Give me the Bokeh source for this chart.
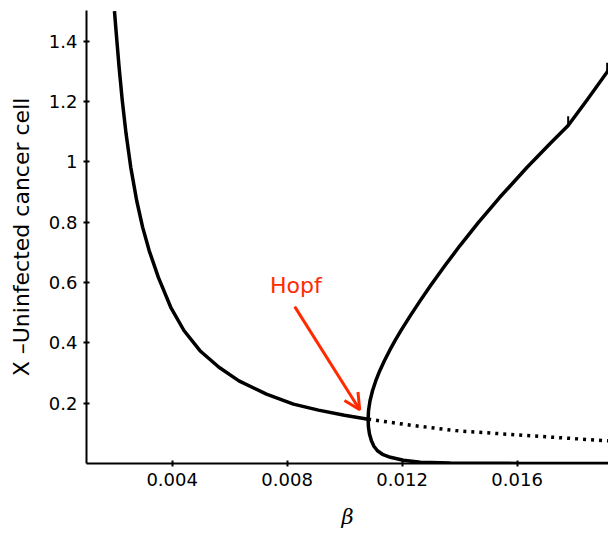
import math
from bokeh.plotting import figure
from bokeh.embed import file_html
from bokeh.resources import INLINE
from bokeh.models import FixedTicker, CustomJSTickFormatter, Arrow, OpenHead, Label, Range1d

# Stable branch (left), ending at the Hopf point
beta_left = [0.001993, 0.002056, 0.002153, 0.002264, 0.002397, 0.00256, 0.002765,
             0.002974, 0.0032, 0.00352, 0.003951, 0.00441, 0.004967, 0.005628,
             0.006323, 0.00728, 0.008219, 0.009089, 0.009993, 0.010817]
x_left = [1.50, 1.425, 1.315, 1.204, 1.093, 0.982, 0.872,
          0.783, 0.706, 0.617, 0.518, 0.441, 0.374, 0.319,
          0.274, 0.230, 0.197, 0.177, 0.160, 0.147]

# Unstable continuation after Hopf (dotted)
beta_unstable = [0.010817, 0.01230, 0.01386, 0.01490, 0.01699, 0.01914, 0.01925]
x_unstable = [0.147, 0.127, 0.109, 0.102, 0.0886, 0.0754, 0.0748]

# Second (C-shaped) branch: lower part (right to nose), then upper part (nose to right)
beta_c_low = [0.01925, 0.016115, 0.01368, 0.012637, 0.012045, 0.011593, 0.011315,
              0.011141, 0.011019, 0.010932, 0.010863, 0.010828]
x_c_low = [0.0, 0.0003, 0.0013, 0.004, 0.0106, 0.0206, 0.0305,
           0.0421, 0.0571, 0.0753, 0.0986, 0.122]
beta_c_up = [0.010817, 0.010831, 0.010883, 0.010970, 0.011085, 0.011224, 0.011384,
             0.011562, 0.011753, 0.011958, 0.012287, 0.012631, 0.012991, 0.013492,
             0.014014, 0.014650, 0.015391, 0.016341, 0.017151, 0.017777, 0.018421,
             0.019134, 0.01925]
x_c_up = [0.147, 0.1749, 0.2081, 0.2413, 0.2745, 0.3077, 0.3409,
          0.3741, 0.4072, 0.4404, 0.4902, 0.5400, 0.5898, 0.6562,
          0.7226, 0.7989, 0.8819, 0.9814, 1.0611, 1.1209, 1.2038,
          1.2984, 1.314]

# small marks on the upper branch
beta_marks = [0.017777, 0.019134]
x_marks = [1.135, 1.312]

x_ticks = [0.004, 0.008, 0.012, 0.016]
y_ticks = [0.2, 0.4, 0.6, 0.8, 1, 1.2, 1.4]

p = figure(width=608, height=533, output_backend="svg", toolbar_location=None,
           x_range=Range1d(0.00102, 0.01918), y_range=Range1d(0, 1.502),
           min_border_left=86, min_border_right=0, min_border_top=10, min_border_bottom=70)
p.outline_line_color = None
p.xgrid.visible = False
p.ygrid.visible = False
p.background_fill_color = "white"
p.border_fill_color = "white"

lw = 3.5
p.line(beta_left, x_left, line_color="black", line_width=lw, line_join="round")
p.line(beta_unstable, x_unstable, line_color="black", line_width=lw, line_dash="3 5")
p.line(beta_c_low + beta_c_up, x_c_low + x_c_up, line_color="black", line_width=lw,
       line_join="round")
p.scatter(beta_marks, x_marks, marker="dash", angle=math.pi / 2, size=10,
          line_color="black", line_width=2)

red = "#ff2a00"
p.add_layout(Arrow(end=OpenHead(line_color=red, line_width=3, size=16),
                   x_start=0.008264, y_start=0.520, x_end=0.010525, y_end=0.178,
                   line_color=red, line_width=3))
p.add_layout(Label(x=0.008306, y=0.59, text="Hopf", text_align="center",
                   text_baseline="alphabetic", text_color=red,
                   text_font="DejaVu Sans", text_font_size="22px"))

fmt = CustomJSTickFormatter(code="return String(tick);")
for ax, ticks in ((p.xaxis, x_ticks), (p.yaxis, y_ticks)):
    ax.ticker = FixedTicker(ticks=ticks)
    ax.formatter = fmt
    ax.axis_line_width = 2
    ax.axis_line_color = "black"
    ax.major_tick_line_width = 2
    ax.major_tick_line_color = "black"
    ax.major_tick_in = 3
    ax.major_tick_out = 3
    ax.minor_tick_line_color = None
    ax.major_label_text_font = "DejaVu Sans"
    ax.major_label_text_font_size = "18px"
    ax.major_label_text_color = "black"
    ax.axis_label_text_color = "black"

p.xaxis.major_label_standoff = 6
p.yaxis.major_label_standoff = 6

p.xaxis.axis_label = "β"
p.xaxis.axis_label_text_font = "DejaVu Serif"
p.xaxis.axis_label_text_font_style = "italic"
p.xaxis.axis_label_text_font_size = "21px"
p.xaxis.axis_label_standoff = 16

p.yaxis.axis_label = "X –Uninfected cancer cell"
p.yaxis.axis_label_text_font = "DejaVu Sans"
p.yaxis.axis_label_text_font_style = "normal"
p.yaxis.axis_label_text_font_size = "22px"
p.yaxis.axis_label_standoff = 12

open("out.html", "w").write(file_html(p, INLINE))
